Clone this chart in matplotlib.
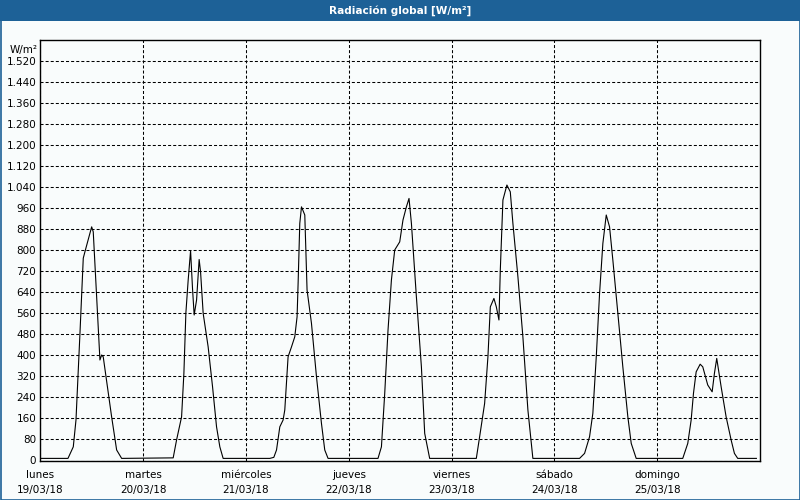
import matplotlib
matplotlib.use("Agg")
import matplotlib.pyplot as plt
from matplotlib.patches import Rectangle
from matplotlib.ticker import FixedLocator, FuncFormatter

# ---- data (hours since 19/03/18 00:00, W/m²) ----
hours = [0.0, 6.46, 7.70, 8.33, 9.26, 10.03, 10.43, 11.99, 12.36, 13.92, 14.32, 14.69, 16.65, 17.82, 18.99,
         31.02, 31.81, 32.98, 33.52, 33.98, 34.52, 35.08, 35.55, 35.92, 36.48, 37.08, 37.41, 38.02, 39.18,
         40.21, 41.14, 41.91, 42.68,
         53.57, 54.51, 55.14, 55.91, 56.68, 57.07, 57.84, 58.64, 59.40, 59.94, 60.18, 60.57, 60.97, 61.74, 62.27,
         63.30, 64.47, 65.63, 66.40, 67.17,
         78.83, 79.63, 80.40, 81.17, 81.96, 82.73, 83.90, 84.66, 85.46, 86.07, 86.63, 87.79, 88.96, 89.73, 90.89,
         101.78, 102.55, 103.72, 104.49, 105.05, 105.89, 106.45, 107.06, 107.38, 107.99, 108.92, 109.71,
         110.32, 111.49, 112.65, 113.82, 114.98,
         125.88, 127.05, 128.21, 128.98, 129.78, 130.55, 131.32, 132.11, 132.88, 133.65, 134.82, 135.98, 137.15,
         137.94, 139.10,
         149.97, 151.14, 151.93, 152.47, 153.10, 154.03, 154.64, 155.80, 156.83, 157.36, 157.90, 158.93,
         160.09, 161.26, 162.03, 162.80, 167.16]
radiation = [8, 8, 52, 154, 484, 769, 794, 888, 869, 382, 401, 394, 166, 40, 8,
             10, 78, 166, 332, 560, 686, 797, 648, 553, 610, 764, 717, 559, 432,
             280, 128, 52, 8,
             8, 12, 40, 128, 154, 192, 394, 432, 470, 546, 673, 901, 964, 933, 648,
             521, 318, 141, 40, 8,
             8, 52, 255, 496, 686, 800, 831, 914, 964, 996, 901, 622, 356, 103, 8,
             8, 90, 217, 394, 584, 616, 584, 534, 724, 990, 1047, 1021,
             901, 698, 470, 192, 8,
             8, 27, 90, 179, 394, 635, 825, 933, 888, 762, 559, 356, 166,
             65, 8,
             8, 65, 154, 255, 337, 366, 356, 287, 261, 331, 388, 280,
             166, 78, 27, 8, 8]

day_names = ["lunes", "martes", "miércoles", "jueves", "viernes", "sábado", "domingo"]
day_dates = ["19/03/18", "20/03/18", "21/03/18", "22/03/18", "23/03/18", "24/03/18", "25/03/18"]
y_ticks = list(range(0, 1521, 80))

title = "Radiación global [W/m²]"
unit = "W/m²"

# ---- figure ----
BLUE = "#1d6197"
BG = "#f9fcfc"
fig = plt.figure(figsize=(8, 5), dpi=100, facecolor=BG)

# title bar and frame
fig.patches.append(Rectangle((0, 1 - 21 / 500), 1, 21 / 500, transform=fig.transFigure,
                             facecolor=BLUE, edgecolor="none", zorder=0))
fig.patches.append(Rectangle((0.5 / 800, 0.5 / 500), 799 / 800, 499 / 500, transform=fig.transFigure,
                             facecolor="none", edgecolor=BLUE, linewidth=1.2, zorder=5))
fig.text(0.5, 1 - 10.5 / 500, title, color="white", fontsize=7.6, fontweight="bold",
         ha="center", va="center", family="DejaVu Sans")

ax = fig.add_axes([40.3 / 800, 1 - 460.5 / 500, (760 - 40.3) / 800, (460.5 - 39.5) / 500])
ax.set_facecolor(BG)
ax.plot(hours, radiation, color="black", linewidth=0.8)

ax.set_xlim(0, 168)
ax.set_ylim(0, 1600)

ax.yaxis.set_major_locator(FixedLocator(y_ticks))
ax.yaxis.set_major_formatter(FuncFormatter(lambda v, p: f"{int(v):,}".replace(",", ".")))
ax.set_xticks([24 * i for i in range(len(day_names))])
ax.set_xticklabels([f"{n}\n{d}" for n, d in zip(day_names, day_dates)], linespacing=1.6)

ax.tick_params(axis="both", length=0, labelsize=7.5, colors="black")
ax.tick_params(axis="x", pad=7)
ax.tick_params(axis="y", pad=3)

ax.grid(True, color="black", linestyle=(0, (2.9, 2.0)), linewidth=0.75)
for s in ax.spines.values():
    s.set_color("black")
    s.set_linewidth(1.0)

ax.text(-0.004, 0.987, unit, transform=ax.transAxes, ha="right", va="top", fontsize=7.5)

fig.savefig("out.png", dpi=100, facecolor=BG)
